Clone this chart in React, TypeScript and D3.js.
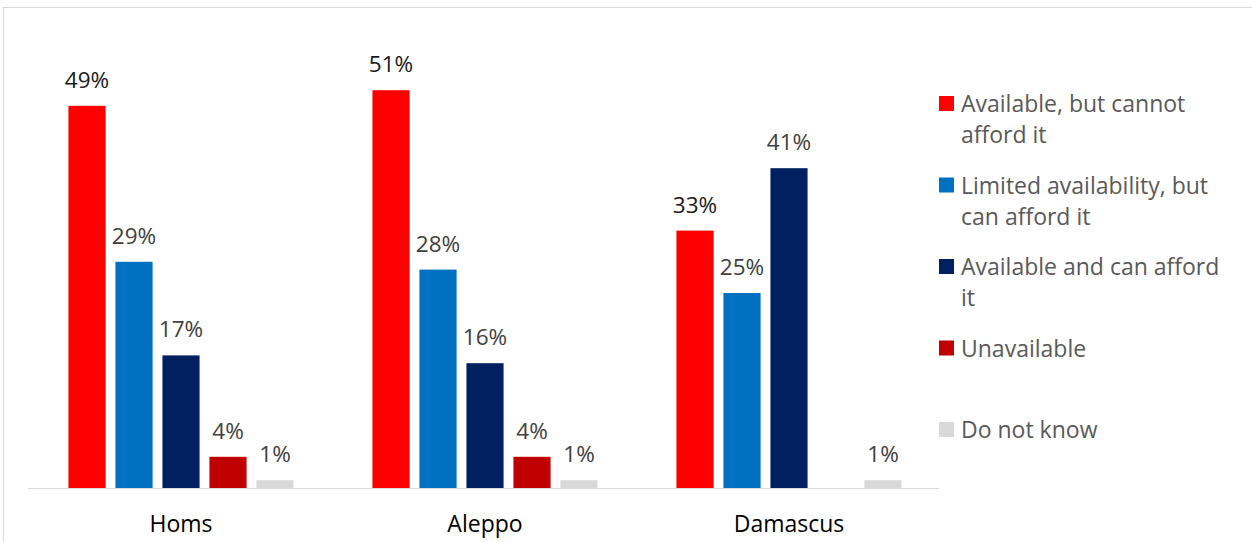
import React from "react";
import * as d3 from "d3";

const categories = ["Homs", "Aleppo", "Damascus"];
const seriesNames = [
  "Available, but cannot afford it",
  "Limited availability, but can afford it",
  "Available and can afford it",
  "Unavailable",
  "Do not know",
];
const legendLines = [
  ["Available, but cannot", "afford it"],
  ["Limited availability, but", "can afford it"],
  ["Available and can afford", "it"],
  ["Unavailable"],
  ["Do not know"],
];
const seriesColors = ["#ff0000", "#0070c0", "#002060", "#c00000", "#d9d9d9"];
const labelColors = ["#1a1a1a", "#404040", "#404040", "#404040", "#404040"];
const availableCannotAfford = [49, 51, 33];
const limitedCanAfford = [29, 28, 25];
const availableCanAfford = [17, 16, 41];
const unavailable = [4, 4, null];
const doNotKnow = [1, 1, 1];
const seriesValues = [availableCannotAfford, limitedCanAfford, availableCanAfford, unavailable, doNotKnow];

const W = 1252;
const H = 542;
const FONT = "'Open Sans', sans-serif";

export default function App() {
  const baseY = 488;
  const x0 = d3.scaleBand<string>().domain(categories).range([29, 941]).paddingInner(0.227).paddingOuter(0.1135);
  const x1 = d3.scaleBand<string>().domain(seriesNames).range([0, x0.bandwidth()]).paddingInner(0.21).paddingOuter(0.105);
  const y = d3.scaleLinear().domain([0, 60]).range([baseY, 20]);
  const legendY = d3.scalePoint<string>().domain(seriesNames).range([104, 430]);

  return (
    <svg width={W} height={H} style={{ position: "absolute", left: 0, top: 0 }}>
      <rect x={3.5} y={7.5} width={W + 10} height={H + 10} fill="#fff" stroke="#d9d9d9" strokeWidth={1} />
      <line x1={28} x2={939} y1={baseY + 0.5} y2={baseY + 0.5} stroke="#d9d9d9" strokeWidth={1} />
      {categories.map((c, ci) => (
        <g key={c} transform={`translate(${x0(c)},0)`}>
          {seriesNames.map((s, si) => {
            const v = seriesValues[si][ci];
            if (v == null) return null;
            const bx = x1(s)!;
            return (
              <g key={s}>
                <rect x={bx} y={y(v)} width={x1.bandwidth()} height={baseY - y(v)} fill={seriesColors[si]} />
                <text
                  x={bx + x1.bandwidth() / 2}
                  y={y(v) - 18}
                  textAnchor="middle"
                  fontFamily={FONT}
                  fontSize={22.5}
                  fill={labelColors[si]}
                >
                  {v}%
                </text>
              </g>
            );
          })}
          <text x={x0.bandwidth() / 2} y={532} textAnchor="middle" fontFamily={FONT} fontSize={23} fill="#000">
            {c}
          </text>
        </g>
      ))}
      {seriesNames.map((s, si) => (
        <g key={s} transform={`translate(939,${legendY(s)})`}>
          <rect x={0} y={-8} width={15} height={15} fill={seriesColors[si]} />
          {legendLines[si].map((ln, li) => (
            <text key={li} x={22} y={8 + li * 31} fontFamily={FONT} fontSize={23} fill="#595959">
              {ln}
            </text>
          ))}
        </g>
      ))}
    </svg>
  );
}
